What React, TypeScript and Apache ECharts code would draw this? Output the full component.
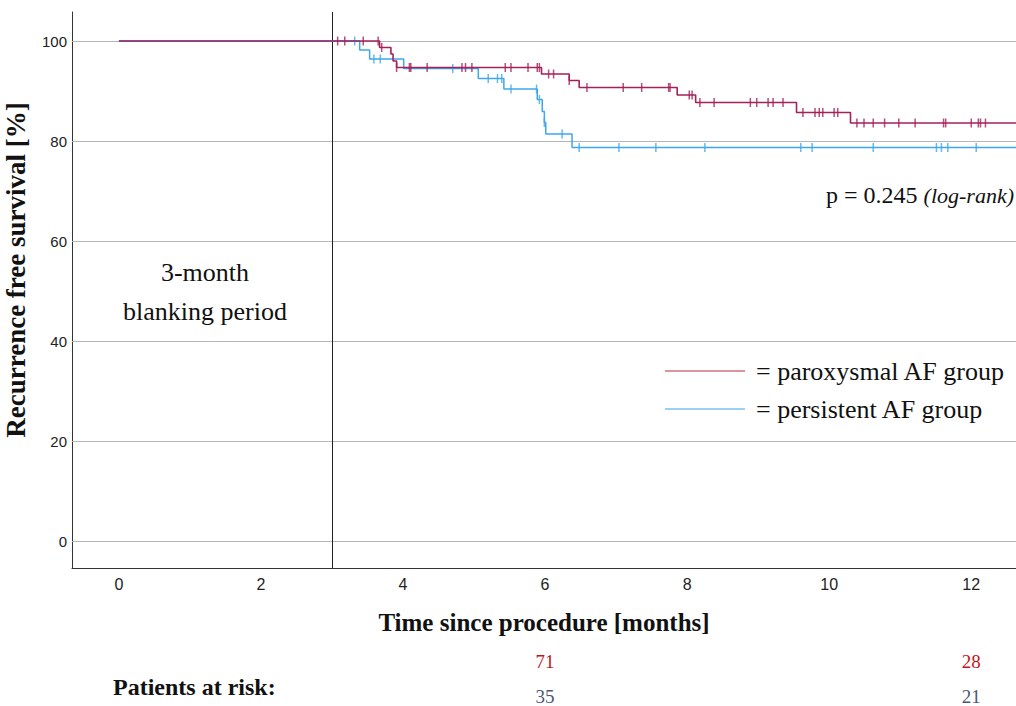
import React, { useEffect, useRef } from "react";
import * as echarts from "echarts";

// ---- data ----
const xTicks = [0, 2, 4, 6, 8, 10, 12];
const yTicks = [0, 20, 40, 60, 80, 100];

// paroxysmal AF group: event times (months) and survival (%) after each step
const parTimes = [0, 3.67, 3.83, 3.86, 3.91, 5.95, 6.34, 6.48, 7.86, 8.12, 9.54, 10.3];
const parValues = [100, 98.7, 97.4, 96.0, 94.7, 93.4, 92.1, 90.7, 89.2, 87.7, 85.7, 83.6];
const parCensor = [3.08, 3.18, 3.44, 3.65, 3.7, 3.91, 4.09, 4.11, 4.34, 4.83, 4.88, 4.97, 5.44, 5.52, 5.76, 5.89, 5.92, 6.05, 6.12, 6.34, 6.59, 7.1, 7.36, 7.74, 7.76, 8.03, 8.07, 8.18, 8.38, 8.89, 8.98, 9.14, 9.21, 9.35, 9.63, 9.8, 9.86, 9.91, 10.07, 10.12, 10.39, 10.49, 10.62, 10.78, 10.98, 11.21, 11.61, 11.64, 12.0, 12.1, 12.13, 12.2];

// persistent AF group
const perTimes = [0, 3.39, 3.53, 4.01, 5.06, 5.42, 5.89, 5.96, 5.99, 6.01, 6.38];
const perValues = [100, 98.2, 96.4, 94.5, 92.5, 90.4, 88.3, 85.9, 83.7, 81.4, 78.7];
const perCensor = [3.32, 3.59, 3.68, 4.7, 5.2, 5.33, 5.39, 5.52, 5.88, 5.92, 5.99, 6.24, 6.48, 7.04, 7.56, 8.25, 9.6, 9.76, 10.62, 11.51, 11.58, 11.67, 12.07];

const riskTimes = [6, 12];
const riskPar = [71, 28];
const riskPer = [35, 21];

const blankingEnd = 3;
const pValue = "0.245";

const X_MIN = -0.66;
const X_MAX = 12.63;
const Y_MIN = -5.4;
const Y_MAX = 105.8;

const RED = "#a3225a";
const BLUE = "#3ea7ee";
const SERIF = "'Liberation Serif', 'Times New Roman', serif";
const SANS = "'Liberation Sans', Arial, sans-serif";

function stepAt(times: number[], values: number[], t: number) {
  let v = values[0];
  for (let i = 0; i < times.length; i++) if (times[i] <= t) v = values[i];
  return v;
}

function curve(times: number[], values: number[]) {
  const d = times.map((t, i) => [t, values[i]]);
  d.push([X_MAX, values[values.length - 1]]);
  return d;
}

function censors(times: number[], values: number[], c: number[]) {
  return c.map((t) => [t, stepAt(times, values, t)]);
}

export default function App() {
  const ref = useRef<HTMLDivElement>(null);
  useEffect(() => {
    if (!ref.current) return;
    const chart = echarts.init(ref.current, undefined, { renderer: "svg" });
    const option: any = {
      animation: false,
      grid: { left: 72, right: 0, top: 12, bottom: 138 },
      xAxis: {
        type: "value",
        min: X_MIN,
        max: X_MAX,
        axisLine: { show: true, onZero: false, lineStyle: { color: "#333", width: 1 } },
        axisTick: { show: false },
        splitLine: { show: false },
        axisLabel: {
          customValues: xTicks,
          color: "#222",
          fontSize: 16,
          fontFamily: SANS,
          margin: 8,
        },
      },
      yAxis: {
        type: "value",
        min: Y_MIN,
        max: Y_MAX,
        axisLine: { show: true, onZero: false, lineStyle: { color: "#333", width: 1 } },
        axisTick: { show: false },
        splitLine: { show: false },
        axisLabel: {
          customValues: yTicks,
          color: "#222",
          fontSize: 15,
          fontFamily: SANS,
          margin: 5,
        },
      },
      series: [
        {
          type: "line",
          name: "persistent AF group",
          step: "end",
          data: curve(perTimes, perValues),
          symbol: "none",
          lineStyle: { color: BLUE, width: 1.5 },
          z: 3,
          markLine: {
            silent: true,
            symbol: "none",
            label: { show: false },
            z: 1,
            data: [
              ...yTicks.map((v) => ({ yAxis: v, lineStyle: { color: "#b5b5b5", width: 1, type: "solid" } })),
              { xAxis: blankingEnd, lineStyle: { color: "#222", width: 1, type: "solid" } },
            ],
          },
        },
        {
          type: "scatter",
          data: censors(perTimes, perValues, perCensor),
          symbol: "rect",
          symbolSize: [1.5, 9],
          itemStyle: { color: BLUE },
          z: 4,
        },
        {
          type: "line",
          name: "paroxysmal AF group",
          step: "end",
          data: curve(parTimes, parValues),
          symbol: "none",
          lineStyle: { color: RED, width: 1.6 },
          z: 5,
        },
        {
          type: "scatter",
          data: censors(parTimes, parValues, parCensor),
          symbol: "rect",
          symbolSize: [1.5, 9],
          itemStyle: { color: RED },
          z: 6,
        },
      ],
    };
    chart.setOption(option);

    const px = (m: number) => chart.convertToPixel({ gridIndex: 0 }, [m, 0])[0];
    const bigText = { fontFamily: SERIF, fontSize: 26, fill: "#111" };
    const graphic: any[] = [
      {
        type: "text",
        x: 16,
        y: 270,
        rotation: Math.PI / 2,
        style: { ...bigText, text: "Recurrence free survival [%]", fontWeight: "bold", fontSize: 27, align: "center", verticalAlign: "middle" },
      },
      {
        type: "text",
        x: 544,
        y: 622,
        style: { ...bigText, text: "Time since procedure [months]", fontWeight: "bold", fontSize: 25, align: "center", verticalAlign: "middle" },
      },
      {
        type: "text",
        x: 113,
        y: 687,
        style: { ...bigText, text: "Patients at risk:", fontWeight: "bold", fontSize: 24, align: "left", verticalAlign: "middle" },
      },
      {
        type: "text",
        x: 205,
        y: 272,
        style: { ...bigText, text: "3-month", align: "center", verticalAlign: "middle" },
      },
      {
        type: "text",
        x: 205,
        y: 311,
        style: { ...bigText, text: "blanking period", align: "center", verticalAlign: "middle" },
      },
      {
        type: "text",
        x: 1014,
        y: 195,
        style: {
          text: "{n|p = " + pValue + " }{i|(log-rank)}",
          align: "right",
          verticalAlign: "middle",
          rich: {
            n: { fontFamily: SERIF, fontSize: 24, fill: "#111", color: "#111" },
            i: { fontFamily: SERIF, fontSize: 22, fontStyle: "italic", fill: "#111", color: "#111" },
          },
        },
      },
      { type: "line", shape: { x1: 665, y1: 371, x2: 745, y2: 371 }, style: { stroke: "#b32a40", lineWidth: 1 } },
      { type: "line", shape: { x1: 665, y1: 409, x2: 745, y2: 409 }, style: { stroke: "#3a9fe6", lineWidth: 1 } },
      { type: "text", x: 756, y: 371, style: { ...bigText, text: "= paroxysmal AF group", align: "left", verticalAlign: "middle" } },
      { type: "text", x: 756, y: 409, style: { ...bigText, text: "= persistent AF group", align: "left", verticalAlign: "middle" } },
    ];
    riskTimes.forEach((t, i) => {
      graphic.push({
        type: "text",
        x: px(t),
        y: 661,
        style: { fontFamily: SERIF, fontSize: 19, fill: "#c0161c", text: String(riskPar[i]), align: "center", verticalAlign: "middle" },
      });
      graphic.push({
        type: "text",
        x: px(t),
        y: 696,
        style: { fontFamily: SERIF, fontSize: 19, fill: "#4b5873", text: String(riskPer[i]), align: "center", verticalAlign: "middle" },
      });
    });
    chart.setOption({ graphic });

    return () => chart.dispose();
  }, []);
  return <div ref={ref} style={{ position: "fixed", left: 0, top: 0, width: 1016, height: 706, background: "#fff" }} />;
}
